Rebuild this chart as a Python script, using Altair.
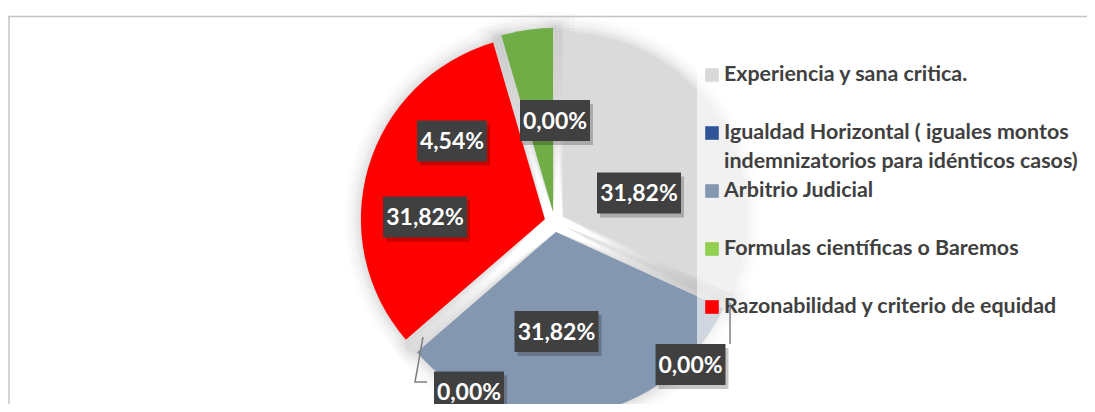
import math
import textwrap
import altair as alt
import pandas as pd

# ---------------- data ----------------
categories = [
    "Experiencia y sana critica.",
    "Igualdad Horizontal ( iguales montos indemnizatorios para idénticos casos)",
    "Arbitrio Judicial",
    "Formulas científicas o Baremos",
    "Razonabilidad y criterio de equidad",
]
values = [31.82, 0.00, 31.82, 4.54, 31.82]          # percent
pie_order = [0, 1, 2, 4, 3]                           # clockwise position of each slice
legend_colors = ["#d9d9d9", "#2f5597", "#8497b0", "#92d050", "#ff0000"]
slice_colors = ["#dadada", "#2f5597", "#8497b0", "#70ad47", "#ff0000"]

# data labels as they appear on the chart (Excel placed 7 labels)
label_values = [0.00, 4.54, 31.82, 31.82, 31.82, 0.00, 0.00]

# ---------------- layout ----------------
W, H = 1079, 396
CX, CY = 546.5, 214.0        # pie centre (chart px)
R = 184                      # pie radius
EXPLODE = 10                 # slice explosion
# label centres relative to the pie centre
label_offsets = [(0.5, -101.5), (-102.5, -81), (84.5, -29), (-129.5, -5),
                 (2, 109.5), (136, 142.5), (-85.5, 170)]
# leader lines (relative to pie centre)
leaders = [
    [(-127.5, 160), (-139.5, 160), (-131.5, 115)],
    [(175.5, 122), (175.5, 81)],
]
LEG_X_SW, LEG_X_TXT = 704, 716
LEG_Y0, LEG_ROW, LEG_LINE = 67, 58, 29
LEG_BOX = (689, 50, W, 342)

PX = dict(scale=None, axis=None)

pie_df = pd.DataFrame({
    "cat": categories, "value": values, "order": pie_order, "color": slice_colors,
})

base_pie = alt.Chart(pie_df).transform_window(
    cum="sum(value)", sort=[alt.SortField("order")], frame=[None, 0]
).transform_calculate(
    start="datum.cum - datum.value",
    mid="(datum.cum - datum.value / 2) / 100 * 2 * PI",
    px=f"{CX} + {EXPLODE} * sin(datum.mid)",
    py=f"{CY} - {EXPLODE} * cos(datum.mid)",
)
theta_scale = alt.Scale(domain=[0, 100], range=[0, 2 * math.pi])

layers = []
# soft shadow
for k, e, op in [(16, 1.8, 0.015), (12, 1.4, 0.02), (8, 1.0, 0.025), (5, 0.7, 0.03), (2, 0.35, 0.03)]:
    layers.append(
        base_pie.transform_calculate(s0=f"datum.start - {e}", s1=f"datum.cum + {e}")
        .mark_arc(radius=R + k, fill="black", opacity=op)
        .encode(
            theta=alt.Theta("s0:Q", scale=theta_scale),
            theta2="s1:Q",
            x=alt.X("px:Q", **PX), y=alt.Y("py:Q", **PX),
        )
    )
# slices
layers.append(
    base_pie.mark_arc(radius=R, strokeWidth=0).encode(
        theta=alt.Theta("start:Q", scale=theta_scale),
        theta2="cum:Q",
        x=alt.X("px:Q", **PX), y=alt.Y("py:Q", **PX),
        fill=alt.Fill("color:N", scale=None),
        tooltip=["cat:N", "value:Q"],
    )
)

# legend background
box_df = pd.DataFrame({"x": [LEG_BOX[0]], "y": [LEG_BOX[1]], "x2": [LEG_BOX[2]], "y2": [LEG_BOX[3]]})
layers.append(
    alt.Chart(box_df).mark_rect(fill="white", opacity=0.62).encode(
        x=alt.X("x:Q", **PX), x2="x2:Q", y=alt.Y("y:Q", **PX), y2="y2:Q"
    )
)

# legend
rows = []
for i, (c, col) in enumerate(zip(categories, legend_colors)):
    for j, line in enumerate(textwrap.wrap(c, width=37)):
        rows.append({"text": line, "line": j, "color": col,
                     "y": LEG_Y0 + LEG_ROW * i + LEG_LINE * j})
leg_df = pd.DataFrame(rows)
leg_df["xs"] = LEG_X_SW
leg_df["xt"] = LEG_X_TXT
layers.append(
    alt.Chart(leg_df).transform_filter("datum.line == 0").mark_square(size=185, opacity=1).encode(
        x=alt.X("xs:Q", **PX), y=alt.Y("y:Q", **PX), fill=alt.Fill("color:N", scale=None)
    )
)
layers.append(
    alt.Chart(leg_df).mark_text(align="left", baseline="middle", font="Lato",
                                fontWeight="bold", fontSize=21.4, color="#404040").encode(
        x=alt.X("xt:Q", **PX), y=alt.Y("y:Q", **PX), text="text:N"
    )
)

# chart-area frame (left and top edges visible)
layers.append(alt.Chart(pd.DataFrame({"a": [0]})).mark_rule(color="#c4c4c4", strokeWidth=1.5).encode(
    x=alt.value(0), x2=alt.value(W), y=alt.value(8.5)))
layers.append(alt.Chart(pd.DataFrame({"a": [0]})).mark_rule(color="#c4c4c4", strokeWidth=1.5).encode(
    x=alt.value(1), y=alt.value(8), y2=alt.value(H)))

# leader lines
lrows = []
for li, pts in enumerate(leaders):
    for pi, (dx, dy) in enumerate(pts):
        lrows.append({"id": li, "o": pi, "x": CX + dx, "y": CY + dy})
layers.append(
    alt.Chart(pd.DataFrame(lrows)).mark_line(color="#7f7f7f", strokeWidth=1.5).encode(
        x=alt.X("x:Q", **PX), y=alt.Y("y:Q", **PX), detail="id:N", order="o:Q"
    )
)

# data labels
lab = pd.DataFrame({
    "text": [f"{v:.2f}".replace(".", ",") + "%" for v in label_values],
    "dx": [o[0] for o in label_offsets],
    "dy": [o[1] for o in label_offsets],
})
lab["x"] = CX + lab["dx"]
lab["y"] = CY + lab["dy"]
lab["w"] = lab["text"].str.len() * 14
lab["x0"] = lab["x"] - lab["w"] / 2
lab["x1"] = lab["x"] + lab["w"] / 2
lab["y0"] = lab["y"] - 20.5
lab["y1"] = lab["y"] + 20.5
lab["sx0"] = lab["x0"] + 3
lab["sx1"] = lab["x1"] + 3
lab["sy0"] = lab["y0"] + 4
lab["sy1"] = lab["y1"] + 4

layers.append(
    alt.Chart(lab).mark_rect(fill="black", opacity=0.22).encode(
        x=alt.X("sx0:Q", **PX), x2="sx1:Q", y=alt.Y("sy0:Q", **PX), y2="sy1:Q"
    )
)
layers.append(
    alt.Chart(lab).mark_rect(fill="#404040").encode(
        x=alt.X("x0:Q", **PX), x2="x1:Q", y=alt.Y("y0:Q", **PX), y2="y1:Q"
    )
)
layers.append(
    alt.Chart(lab).mark_text(align="center", baseline="middle", font="Lato",
                             fontWeight="bold", fontSize=23, color="white", dy=1).encode(
        x=alt.X("x:Q", **PX), y=alt.Y("y:Q", **PX), text="text:N"
    )
)

chart = alt.layer(*layers).properties(
    width=W, height=H, padding=0, background="white",
    autosize=alt.AutoSizeParams(type="none"),
).configure_view(stroke=None)

chart.save("out.html", embed_options={"renderer": "svg", "actions": False})
